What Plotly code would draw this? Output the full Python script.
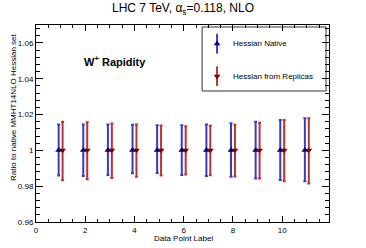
import plotly.graph_objects as go

points = [1, 2, 3, 4, 5, 6, 7, 8, 9, 10, 11]
native_center = [1.0] * 11
native_up = [1.0144, 1.0144, 1.0144, 1.0143, 1.0140, 1.0140, 1.0144, 1.0152, 1.0160, 1.0169, 1.0180]
native_down = [0.9860, 0.9857, 0.9863, 0.9872, 0.9874, 0.9863, 0.9857, 0.9852, 0.9843, 0.9835, 0.9828]
rep_center = [1.0] * 11
rep_up = [1.0160, 1.0157, 1.0150, 1.0144, 1.0139, 1.0135, 1.0137, 1.0143, 1.0154, 1.0169, 1.0180]
rep_down = [0.9833, 0.9839, 0.9846, 0.9852, 0.9859, 0.9865, 0.9861, 0.9854, 0.9843, 0.9828, 0.9815]
offset = 0.08

yticks = [0.96, 0.98, 1.0, 1.02, 1.04, 1.06]
yticklabels = ["0.96", "0.98", "1", "1.02", "1.04", "1.06"]
xticks = [0, 2, 4, 6, 8, 10]

FONT = "Liberation Sans, Arial, sans-serif"
BLUE_L = "#3a3ac4"
BLUE_M = "#00007a"
RED_L = "#b83434"
RED_M = "#7a0000"

fig = go.Figure()
fig.add_trace(go.Scatter(
    x=[p - offset for p in points], y=native_center, mode="markers",
    marker=dict(symbol="triangle-up", size=6, color=BLUE_M),
    error_y=dict(type="data", symmetric=False,
                 array=[u - c for u, c in zip(native_up, native_center)],
                 arrayminus=[c - d for d, c in zip(native_down, native_center)],
                 color=BLUE_L, thickness=2, width=1.5),
    showlegend=False))
fig.add_trace(go.Scatter(
    x=[p + offset for p in points], y=rep_center, mode="markers",
    marker=dict(symbol="triangle-down", size=6, color=RED_M),
    error_y=dict(type="data", symmetric=False,
                 array=[u - c for u, c in zip(rep_up, rep_center)],
                 arrayminus=[c - d for d, c in zip(rep_down, rep_center)],
                 color=RED_L, thickness=2, width=1.5),
    showlegend=False))

# legend glyphs on an overlay axis in [0,1]
leg_x = 0.618
leg_y = [0.905, 0.74]
fig.add_trace(go.Scatter(x=[leg_x], y=[leg_y[0]], xaxis="x2", yaxis="y2", mode="markers",
                         marker=dict(symbol="triangle-up", size=6, color=BLUE_M),
                         error_y=dict(type="constant", value=0.05, color=BLUE_L, thickness=2, width=0),
                         showlegend=False, hoverinfo="skip"))
fig.add_trace(go.Scatter(x=[leg_x], y=[leg_y[1]], xaxis="x2", yaxis="y2", mode="markers",
                         marker=dict(symbol="triangle-down", size=6, color=RED_M),
                         error_y=dict(type="constant", value=0.05, color=RED_L, thickness=2, width=0),
                         showlegend=False, hoverinfo="skip"))

fig.add_shape(type="rect", xref="paper", yref="paper", x0=0.567, x1=0.99, y0=0.665, y1=0.99,
              line=dict(color="#333333", width=1), fillcolor="white", layer="below")

fig.add_annotation(x=0.667, y=leg_y[0], xref="paper", yref="paper", text="Hessian Native",
                   showarrow=False, xanchor="left", yanchor="middle", font=dict(size=8, family=FONT, color="black"))
fig.add_annotation(x=0.667, y=leg_y[1], xref="paper", yref="paper", text="Hessian from Replicas",
                   showarrow=False, xanchor="left", yanchor="middle", font=dict(size=8, family=FONT, color="black"))
fig.add_annotation(x=0.158, y=0.815, xref="paper", yref="paper", text="<b>W<sup>+</sup> Rapidity</b>",
                   showarrow=False, xanchor="left", yanchor="middle", font=dict(size=11, family=FONT, color="black"))
# axis titles
fig.add_annotation(x=-0.075, y=0.584, xref="paper", yref="paper", text="Ratio to native MMHT14NLO Hessian set",
                   textangle=-90, showarrow=False, xanchor="center", yanchor="middle",
                   font=dict(size=8, family=FONT, color="black"))
fig.add_annotation(x=0.505, y=-0.086, xref="paper", yref="paper", text="Data Point Label",
                   showarrow=False, xanchor="center", yanchor="middle",
                   font=dict(size=8, family=FONT, color="black"))

fig.update_layout(
    width=366, height=248,
    margin=dict(l=36, r=37, t=25, b=26),
    paper_bgcolor="white", plot_bgcolor="white",
    title=dict(text="LHC 7 TeV, α<sub>s</sub>=0.118, NLO", x=0.5, xanchor="center", y=0.985, yanchor="top",
               font=dict(size=12, family=FONT, color="black")),
    font=dict(family=FONT, color="black"),
    xaxis=dict(range=[0, 11.9], tickvals=xticks, ticks="inside", ticklen=6, tickcolor="black", automargin=False,
               showline=True, linecolor="black", linewidth=1, mirror="ticks", showgrid=False, zeroline=False,
               minor=dict(ticks="inside", dtick=0.5, ticklen=3, tickcolor="black", showgrid=False),
               tickfont=dict(size=8, family=FONT)),
    yaxis=dict(range=[0.96, 1.07], tickvals=yticks, ticktext=yticklabels, ticks="inside", ticklen=7, tickcolor="black",
               automargin=False,
               showline=True, linecolor="black", linewidth=1, mirror="ticks", showgrid=False, zeroline=False,
               minor=dict(ticks="inside", dtick=0.004, ticklen=4, tickcolor="black", showgrid=False),
               tickfont=dict(size=8, family=FONT)),
    xaxis2=dict(range=[0, 1], overlaying="x", visible=False, fixedrange=True),
    yaxis2=dict(range=[0, 1], overlaying="y", visible=False, fixedrange=True),
)

fig.write_html("out.html", config={"displayModeBar": False},
               post_script="document.body.style.margin='0';")
